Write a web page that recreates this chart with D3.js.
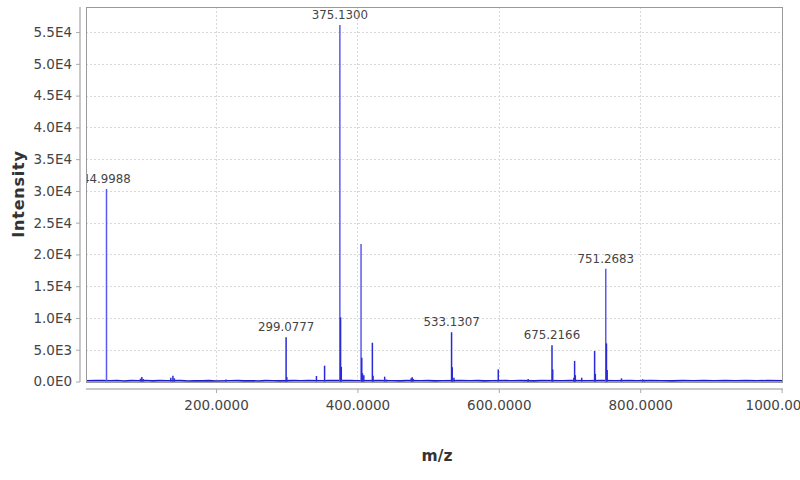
<!DOCTYPE html>
<html>
<head>
<meta charset="utf-8">
<script src="https://cdn.jsdelivr.net/npm/d3@7"></script>
<style>
  body{margin:0;background:#fff;}
  svg text{font-family:"DejaVu Sans",sans-serif;}
</style>
</head>
<body>
<div id="chart"></div>
<script>
// spectrum sticks: [m/z, intensity]
const peaks = [
  [44.9988,30300],
  [93.0,450],[95.0,700],[97.0,400],
  [136.0,600],[139.0,900],[141.0,500],
  [214.0,300],
  [299.0777,6950],[300.08,700],
  [342.0,870],[353.5,2490],
  [375.1300,56100],[376.13,10100],[377.13,2300],
  [405.1,21650],[406.1,3750],[407.1,1300],[409.0,1000],
  [421.1,6100],[422.1,900],
  [438.5,760],[441.0,300],
  [476.0,500],[477.5,650],[479.0,400],
  [533.1307,7750],[534.13,2250],[536.5,600],
  [599.2,1900],[641.5,400],
  [675.2166,5700],[676.22,1900],
  [706.2,600],[707.2,3250],[708.2,1000],
  [717.2,600],
  [735.5,4800],[736.5,1200],
  [751.2683,17750],[752.27,6000],[753.27,1800],
  [773.5,500],[803.5,350],[806.0,250]
];
// low baseline noise
const noise = [
  [17,120],[30,150],[40,130],[50,110],[60,160],[70,90],[80,140],[90,120],[100,150],[110,100],
  [120,130],[130,110],[150,140],[160,90],[170,120],[180,100],[190,130],[200,90],[220,110],[230,140],
  [240,100],[250,120],[260,90],[270,130],[280,110],[290,100],[310,140],[320,110],[330,130],[350,120],
  [360,150],[390,130],[400,110],[430,140],[450,120],[460,100],[470,130],[490,110],[500,140],[510,100],
  [520,120],[545,130],[560,110],[570,140],[580,100],[590,120],[610,130],[620,110],[630,140],[650,100],
  [660,130],[690,120],[700,140],[725,110],[745,130],[765,120],[785,140],[795,110],[815,130],[830,120],
  [845,100],[860,140],[875,120],[890,130],[905,110],[920,140],[935,120],[950,130],[965,110],[980,140],[1002,120]
];
const labelled = [44.9988, 299.0777, 375.1300, 533.1307, 675.2166, 751.2683];
const xTicks = [200, 400, 600, 800, 1000];
const yTicks = [0,5000,10000,15000,20000,25000,30000,35000,40000,45000,50000,55000];
const yTickLabels = ["0.0E0","5.0E3","1.0E4","1.5E4","2.0E4","2.5E4","3.0E4","3.5E4","4.0E4","4.5E4","5.0E4","5.5E4"];

const W = 800, H = 480;
const pl = 86, pr = 783, pt = 7, pb = 382;

const svg = d3.select('#chart').append('svg').attr('width', W).attr('height', H);

const x = d3.scaleLinear().domain([16.0, 1002]).range([pl, pr]);
const y = d3.scaleLinear().domain([0, 58950]).range([381.5, pt]);

svg.append('clipPath').attr('id','plotclip').append('rect')
  .attr('x', pl).attr('y', pt).attr('width', pr-pl).attr('height', pb-pt);

// grid
const grid = svg.append('g').attr('stroke','#d8d8d8').attr('stroke-dasharray','2,2').attr('stroke-width',1);
grid.selectAll('.gy').data(yTicks).enter().append('line')
  .attr('x1', pl).attr('x2', pr).attr('y1', d=>Math.round(y(d))+0.5).attr('y2', d=>Math.round(y(d))+0.5);
grid.selectAll('.gx').data(xTicks).enter().append('line')
  .attr('y1', pt).attr('y2', pb).attr('x1', d=>Math.round(x(d))+0.5).attr('x2', d=>Math.round(x(d))+0.5);

const plot = svg.append('g').attr('clip-path','url(#plotclip)');

// baseline trace
plot.append('path').datum(noise)
  .attr('fill','none').attr('stroke','#1c1cc8').attr('stroke-width',1.6)
  .attr('d', d3.line().x(d=>x(d[0])).y(d=>y(d[1])));

// sticks
plot.selectAll('.pk').data(peaks).enter().append('line')
  .attr('x1', d=>x(d[0])).attr('x2', d=>x(d[0]))
  .attr('y1', y(0)).attr('y2', d=>y(d[1]))
  .attr('stroke', d=>d[1] > 15000 ? '#5a5aec' : '#2a2ad8')
  .attr('stroke-width', 1.5);

// peak labels
plot.selectAll('.lb').data(peaks.filter(d=>labelled.includes(d[0]))).enter().append('text')
  .attr('x', d=>x(d[0])).attr('y', d=>y(d[1]) - 6)
  .attr('text-anchor','middle').attr('font-size','11.8px').attr('fill','#444')
  .text(d=>d[0].toFixed(4));

// plot border
svg.append('rect').attr('x', pl+0.5).attr('y', pt+0.5).attr('width', pr-pl-1).attr('height', pb-pt)
  .attr('fill','none').attr('stroke','#999');

// axes
const yAxis = d3.axisLeft(y).tickValues(yTicks).tickFormat((d,i)=>yTickLabels[i]).tickSizeOuter(0).tickSize(4).tickPadding(4);
const gy = svg.append('g').attr('transform','translate(80,0)').call(yAxis);
gy.select('.domain').attr('stroke','#c8c8c8').attr('stroke-width',2).attr('d', `M0,${pt}V${pb}`);
gy.selectAll('.tick line').attr('stroke','#aaa');
gy.selectAll('.tick text').attr('font-size','13.5px').attr('fill','#444').attr('font-family','DejaVu Sans');

const xAxis = d3.axisBottom(x).tickValues(xTicks).tickFormat(d3.format('.4f')).tickSizeOuter(0).tickSize(4).tickPadding(7);
const gx = svg.append('g').attr('transform','translate(0,389)').call(xAxis);
gx.select('.domain').attr('stroke','#c8c8c8').attr('stroke-width',2).attr('d', `M${pl},0H${pr}`);
gx.selectAll('.tick line').attr('stroke','#aaa');
gx.selectAll('.tick text').attr('font-size','13.5px').attr('fill','#444').attr('font-family','DejaVu Sans');

// axis titles
svg.append('text').attr('transform','translate(23.5,194) rotate(-90)')
  .attr('text-anchor','middle').attr('font-size','16px').attr('font-weight','bold').attr('fill','#333')
  .attr('letter-spacing','0.8px')
  .text('Intensity');
svg.append('text').attr('x', 437).attr('y', 461)
  .attr('text-anchor','middle').attr('font-size','15.5px').attr('font-weight','bold').attr('fill','#333')
  .text('m/z');
</script>
</body>
</html>
